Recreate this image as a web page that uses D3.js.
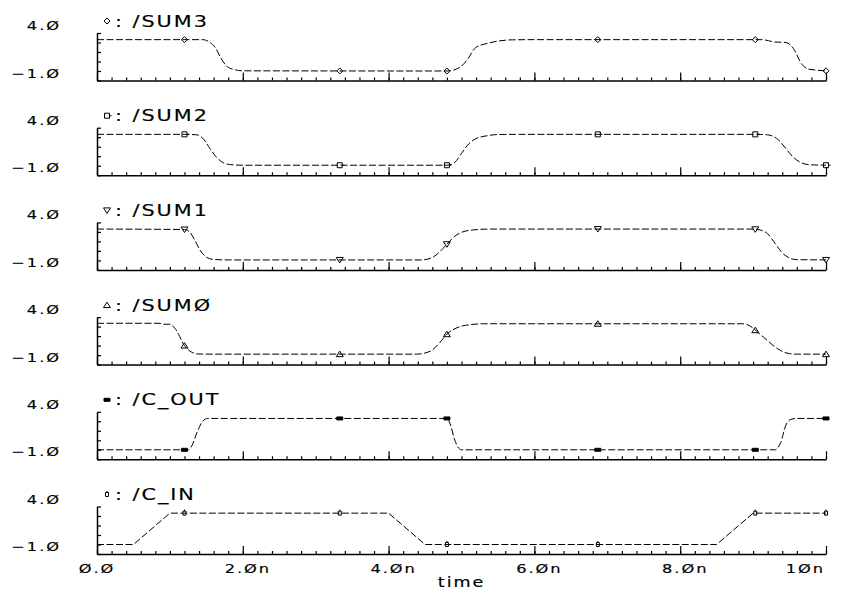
<!DOCTYPE html>
<html>
<head>
<meta charset="utf-8">
<script src="https://cdn.jsdelivr.net/npm/d3@7"></script>
<style>
  body { margin: 0; background: #fff; }
  svg { display: block; }
</style>
</head>
<body>
<script>
// DATA SECTION

// waveform samples, [time in ns, volts]
let sum3 = [[0,3.3],[1.45,3.3],[1.55,3.0],[1.62,2.5],[1.69,1.5],[1.78,0.5],[1.9,0.12],[2.0,0.02],
  [4.8,0.0],[4.98,0.4],[5.07,1.1],[5.2,2.5],[5.35,2.9],[5.5,3.15],[5.7,3.28],[6.0,3.3],
  [9.12,3.3],[9.3,3.05],[9.45,3.0],[9.55,2.4],[9.67,0.7],[9.76,0.2],[10,0.02]];
let sum2 = [[0,3.3],[1.2,3.3],[1.37,3.25],[1.45,2.9],[1.55,1.8],[1.65,0.8],[1.75,0.25],[1.85,0.1],[2.0,0.05],
  [4.8,0.05],[4.9,0.3],[5.0,1.3],[5.1,2.3],[5.2,2.85],[5.35,3.15],[5.5,3.28],[5.8,3.3],
  [9.05,3.3],[9.2,3.25],[9.35,2.7],[9.45,1.8],[9.55,0.9],[9.65,0.35],[9.78,0.1],[10,0.05]];
let sum1 = [[0,3.3],[1.2,3.25],[1.27,3.0],[1.35,2.0],[1.42,1.0],[1.5,0.35],[1.6,0.1],[1.8,0.05],
  [4.45,0.05],[4.6,0.3],[4.7,0.9],[4.8,1.7],[4.9,2.5],[5.0,2.95],[5.15,3.2],[5.4,3.3],
  [9.0,3.3],[9.1,3.2],[9.2,2.8],[9.3,1.8],[9.4,0.8],[9.5,0.25],[9.6,0.08],[10,0.05]];
let sum0 = [[0,3.35],[0.85,3.35],[0.92,3.25],[1.0,3.25],[1.08,2.7],[1.2,1.0],[1.3,0.3],[1.38,0.12],[1.6,0.1],
  [4.38,0.1],[4.57,0.4],[4.7,1.3],[4.8,2.2],[4.98,3.0],[5.12,3.2],[5.3,3.3],
  [8.85,3.3],[8.95,3.1],[9.05,2.5],[9.2,1.5],[9.35,0.6],[9.5,0.15],[9.6,0.1],[10,0.1]];
let cOut = [[0,0],[1.25,0],[1.3,0.4],[1.37,1.8],[1.45,3.0],[1.52,3.3],[4.8,3.3],[4.85,2.6],[4.9,1.2],
  [4.95,0.3],[5.0,0],[9.3,0],[9.38,0.8],[9.45,2.6],[9.52,3.2],[9.6,3.3],[10,3.3]];
let cIn = [[0,0],[0.5,0],[1.0,3.3],[4.0,3.3],[4.5,0],[8.5,0],[9.0,3.3],[10,3.3]];

let names = ['/SUM3', '/SUM2', '/SUM1', '/SUMØ', '/C_OUT', '/C_IN'];
let markTimes = [1.2, 3.33, 4.8, 6.87, 9.03, 10];

let xTicks = [0, 2, 4, 6, 8, 10];
let xTickLabels = ['Ø.Ø', '2.Øn', '4.Øn', '6.Øn', '8.Øn', '1Øn'];
let yLabelValues = [4, -1];
let yTickLabels = ['4.Ø', '−1.Ø'];

// LAYOUT

let W = 849, H = 592;
let top0 = 33, panelH = 47.5, step = 94.7;
let font = 'DejaVu Sans, sans-serif';

let svg = d3.select('body').append('svg')
  .attr('width', W)
  .attr('height', H);

let x = d3.scaleLinear().domain([0, 10]).range([97, 826]);
let y = d3.scaleLinear().domain([-1, 4]).range([panelH, 0]);

let signals = [
  {data: sum3, kind: 'diamond', curve: d3.curveMonotoneX},
  {data: sum2, kind: 'square', curve: d3.curveMonotoneX},
  {data: sum1, kind: 'tridown', curve: d3.curveMonotoneX},
  {data: sum0, kind: 'triup', curve: d3.curveMonotoneX},
  {data: cOut, kind: 'bar', curve: d3.curveMonotoneX},
  {data: cIn, kind: 'pin', curve: d3.curveLinear}
];
signals.forEach((s, i) => s.name = names[i]);

// value on the polyline at time t
let valueAt = function(data, t) {
  let i = d3.bisector(d => d[0]).left(data, t);
  if (i <= 0) return data[0][1];
  if (i >= data.length) return data[data.length - 1][1];
  let a = data[i - 1], b = data[i];
  return a[1] + (b[1] - a[1]) * (t - a[0]) / (b[0] - a[0]);
};

// marker glyphs
let glyphs = {
  diamond: {d: 'M0,-3L3,0L0,3L-3,0Z', fill: 'none'},
  square: {d: 'M-2.5,-2.5h5v5h-5ZM2.5,0h2', fill: 'none'},
  tridown: {d: 'M-3.5,-2.5L3.5,-2.5L0,3Z', fill: 'none'},
  triup: {d: 'M-3.5,2.5L3.5,2.5L0,-3Z', fill: 'none'},
  bar: {d: 'M-3,-1.5h6v3h-6Z', fill: '#000'},
  pin: {d: 'M-1.5,-2h3v4h-3ZM0,-3.5v1.5', fill: 'none'}
};

function addMarker(g, kind, px, py) {
  g.append('path')
    .attr('transform', `translate(${px},${py})`)
    .attr('d', glyphs[kind].d)
    .attr('fill', glyphs[kind].fill)
    .attr('stroke', '#000')
    .attr('stroke-width', 1);
}

// wide stroke-ish text
function addText(g, str, px, py, size, anchor) {
  g.append('g')
    .attr('transform', `translate(${px},${py}) scale(1.3,1)`)
    .append('text')
    .attr('font-family', font)
    .attr('font-size', size)
    .attr('letter-spacing', 1.5)
    .attr('text-anchor', anchor)
    .attr('fill', '#000')
    .attr('stroke', '#000')
    .attr('stroke-width', 0.15)
    .text(str);
}

let line = d3.line()
  .x(d => x(d[0]))
  .y(d => y(d[1]));

signals.forEach(function(s, i) {
  let g = svg.append('g')
    .attr('class', 'panel')
    .attr('transform', `translate(0,${top0 + i * step})`);

  // title
  addMarker(g, s.kind, 107, -12);
  addText(g, ': ' + s.name, 115, -6.5, 16, 'start');

  // y labels
  yLabelValues.forEach((v, k) => addText(g, yTickLabels[k], 61, y(v) - 3, 12.5, 'end'));

  // y axis, ticks pointing in
  g.append('g')
    .attr('transform', `translate(${x(0)},0)`)
    .call(d3.axisRight(y).tickValues(d3.range(-1, 5)).tickSize(4).tickSizeOuter(0).tickFormat(''))
    .call(a => a.select('.domain').attr('stroke-width', 1.5))
    .call(a => a.selectAll('.tick line').attr('stroke-width', 1.2));

  // x axis, minor and major ticks pointing up
  g.append('g')
    .attr('transform', `translate(0,${panelH})`)
    .call(d3.axisTop(x).tickValues(x.ticks(50)).tickSize(3).tickSizeOuter(0).tickFormat(''))
    .call(a => a.select('.domain').attr('stroke-width', 1.5))
    .call(a => a.selectAll('.tick line').attr('stroke-width', 1.2));
  g.append('g')
    .attr('transform', `translate(0,${panelH})`)
    .call(d3.axisTop(x).tickValues(xTicks).tickSize(8).tickSizeOuter(0).tickFormat(''))
    .call(a => a.select('.domain').remove())
    .call(a => a.selectAll('.tick line').attr('stroke-width', 1.2));

  // waveform
  g.append('path')
    .datum(s.data)
    .attr('fill', 'none')
    .attr('stroke', '#000')
    .attr('stroke-width', 1)
    .attr('stroke-dasharray', '7,2.5')
    .attr('d', line.curve(s.curve));

  markTimes.forEach(t => addMarker(g, s.kind, x(t), y(valueAt(s.data, t))));
});

// bottom time labels, last one kept inside the frame
let bottom = top0 + 5 * step + panelH;
xTicks.forEach(function(t, k) {
  let last = k === xTicks.length - 1;
  addText(svg, xTickLabels[k], last ? x(t) - 1 : x(t) + (t > 0 ? 5 : 0), bottom + 19, 12.5, last ? 'end' : 'middle');
});
addText(svg, 'time', (x(0) + x(10)) / 2, bottom + 33, 13.5, 'middle');
</script>
</body>
</html>
